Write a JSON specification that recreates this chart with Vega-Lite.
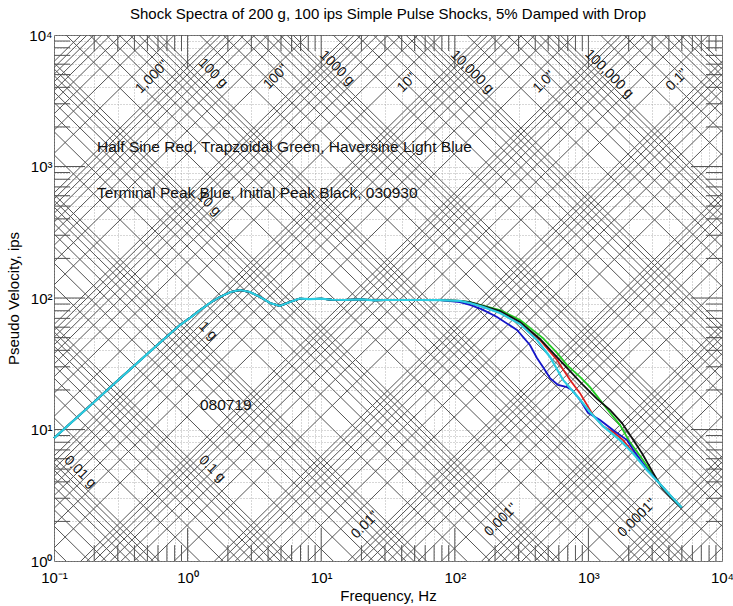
{
  "$schema": "https://vega.github.io/schema/vega-lite/v6.json",
  "width": 668,
  "height": 526,
  "autosize": "none",
  "padding": {"left": 54, "top": 35, "right": 11, "bottom": 45},
  "background": "white",
  "config": {
    "font": "Liberation Sans",
    "view": {"stroke": "#666", "strokeWidth": 1},
    "axis": {"domain": false}
  },
  "title": {
    "text": "Shock Spectra of 200 g, 100 ips Simple Pulse Shocks, 5% Damped with Drop",
    "fontSize": 15,
    "fontWeight": "normal",
    "color": "#000",
    "offset": 6
  },
  "resolve": {"axis": {"x": "independent", "y": "independent"}},
  "datasets": {
    "diag": [
      {"lo":1.2566e-5,"hi":1.2566e0},{"lo":1.885e-5,"hi":1.885e0},{"lo":2.5133e-5,"hi":2.5133e0},{"lo":3.1416e-5,"hi":3.1416e0},{"lo":3.7699e-5,"hi":3.7699e0},{"lo":4.3982e-5,"hi":4.3982e0},{"lo":5.0265e-5,"hi":5.0265e0},{"lo":5.6549e-5,"hi":5.6549e0},
      {"lo":6.2832e-5,"hi":6.2832e0},{"lo":1.2566e-4,"hi":1.2566e1},{"lo":1.885e-4,"hi":1.885e1},{"lo":2.5133e-4,"hi":2.5133e1},{"lo":3.1416e-4,"hi":3.1416e1},{"lo":3.7699e-4,"hi":3.7699e1},{"lo":4.3982e-4,"hi":4.3982e1},{"lo":5.0265e-4,"hi":5.0265e1},{"lo":5.6549e-4,"hi":5.6549e1},
      {"lo":6.2832e-4,"hi":6.2832e1},{"lo":1.2566e-3,"hi":1.2566e2},{"lo":1.885e-3,"hi":1.885e2},{"lo":2.5133e-3,"hi":2.5133e2},{"lo":3.1416e-3,"hi":3.1416e2},{"lo":3.7699e-3,"hi":3.7699e2},{"lo":4.3982e-3,"hi":4.3982e2},{"lo":5.0265e-3,"hi":5.0265e2},{"lo":5.6549e-3,"hi":5.6549e2},
      {"lo":6.2832e-3,"hi":6.2832e2},{"lo":1.2566e-2,"hi":1.2566e3},{"lo":1.885e-2,"hi":1.885e3},{"lo":2.5133e-2,"hi":2.5133e3},{"lo":3.1416e-2,"hi":3.1416e3},{"lo":3.7699e-2,"hi":3.7699e3},{"lo":4.3982e-2,"hi":4.3982e3},{"lo":5.0265e-2,"hi":5.0265e3},{"lo":5.6549e-2,"hi":5.6549e3},
      {"lo":6.2832e-2,"hi":6.2832e3},{"lo":1.2566e-1,"hi":1.2566e4},{"lo":1.885e-1,"hi":1.885e4},{"lo":2.5133e-1,"hi":2.5133e4},{"lo":3.1416e-1,"hi":3.1416e4},{"lo":3.7699e-1,"hi":3.7699e4},{"lo":4.3982e-1,"hi":4.3982e4},{"lo":5.0265e-1,"hi":5.0265e4},{"lo":5.6549e-1,"hi":5.6549e4},
      {"lo":6.2832e-1,"hi":6.2832e4},{"lo":1.2566e0,"hi":1.2566e5},{"lo":1.885e0,"hi":1.885e5},{"lo":2.5133e0,"hi":2.5133e5},{"lo":3.1416e0,"hi":3.1416e5},{"lo":3.7699e0,"hi":3.7699e5},{"lo":4.3982e0,"hi":4.3982e5},{"lo":5.0265e0,"hi":5.0265e5},{"lo":5.6549e0,"hi":5.6549e5},
      {"lo":6.2832e0,"hi":6.2832e5},{"lo":1.2566e1,"hi":1.2566e6},{"lo":1.885e1,"hi":1.885e6},{"lo":2.5133e1,"hi":2.5133e6},{"lo":3.1416e1,"hi":3.1416e6},{"lo":3.7699e1,"hi":3.7699e6},{"lo":4.3982e1,"hi":4.3982e6},{"lo":5.0265e1,"hi":5.0265e6},{"lo":5.6549e1,"hi":5.6549e6},
      {"lo":6.2832e1,"hi":6.2832e6},{"lo":1.2566e2,"hi":1.2566e7},{"lo":1.885e2,"hi":1.885e7},{"lo":2.5133e2,"hi":2.5133e7},{"lo":3.1416e2,"hi":3.1416e7},{"lo":3.7699e2,"hi":3.7699e7},{"lo":4.3982e2,"hi":4.3982e7},{"lo":5.0265e2,"hi":5.0265e7},{"lo":5.6549e2,"hi":5.6549e7},
      {"lo":6.2832e2,"hi":6.2832e7},{"lo":1.2566e3,"hi":1.2566e8},{"lo":1.885e3,"hi":1.885e8},{"lo":2.5133e3,"hi":2.5133e8},{"lo":3.1416e3,"hi":3.1416e8},{"lo":3.7699e3,"hi":3.7699e8},{"lo":4.3982e3,"hi":4.3982e8},{"lo":5.0265e3,"hi":5.0265e8},{"lo":5.6549e3,"hi":5.6549e8},
      {"lo":6.2832e3,"hi":6.2832e8},
      {"lo":1.229e0,"hi":1.229e-5},{"lo":1.8435e0,"hi":1.8435e-5},{"lo":2.458e0,"hi":2.458e-5},{"lo":3.0725e0,"hi":3.0725e-5},{"lo":3.6869e0,"hi":3.6869e-5},{"lo":4.3014e0,"hi":4.3014e-5},{"lo":4.9159e0,"hi":4.9159e-5},{"lo":5.5304e0,"hi":5.5304e-5},
      {"lo":6.1449e0,"hi":6.1449e-5},{"lo":1.229e1,"hi":1.229e-4},{"lo":1.8435e1,"hi":1.8435e-4},{"lo":2.458e1,"hi":2.458e-4},{"lo":3.0725e1,"hi":3.0725e-4},{"lo":3.6869e1,"hi":3.6869e-4},{"lo":4.3014e1,"hi":4.3014e-4},{"lo":4.9159e1,"hi":4.9159e-4},{"lo":5.5304e1,"hi":5.5304e-4},
      {"lo":6.1449e1,"hi":6.1449e-4},{"lo":1.229e2,"hi":1.229e-3},{"lo":1.8435e2,"hi":1.8435e-3},{"lo":2.458e2,"hi":2.458e-3},{"lo":3.0725e2,"hi":3.0725e-3},{"lo":3.6869e2,"hi":3.6869e-3},{"lo":4.3014e2,"hi":4.3014e-3},{"lo":4.9159e2,"hi":4.9159e-3},{"lo":5.5304e2,"hi":5.5304e-3},
      {"lo":6.1449e2,"hi":6.1449e-3},{"lo":1.229e3,"hi":1.229e-2},{"lo":1.8435e3,"hi":1.8435e-2},{"lo":2.458e3,"hi":2.458e-2},{"lo":3.0725e3,"hi":3.0725e-2},{"lo":3.6869e3,"hi":3.6869e-2},{"lo":4.3014e3,"hi":4.3014e-2},{"lo":4.9159e3,"hi":4.9159e-2},{"lo":5.5304e3,"hi":5.5304e-2},
      {"lo":6.1449e3,"hi":6.1449e-2},{"lo":1.229e4,"hi":1.229e-1},{"lo":1.8435e4,"hi":1.8435e-1},{"lo":2.458e4,"hi":2.458e-1},{"lo":3.0725e4,"hi":3.0725e-1},{"lo":3.6869e4,"hi":3.6869e-1},{"lo":4.3014e4,"hi":4.3014e-1},{"lo":4.9159e4,"hi":4.9159e-1},{"lo":5.5304e4,"hi":5.5304e-1},
      {"lo":6.1449e4,"hi":6.1449e-1},{"lo":1.229e5,"hi":1.229e0},{"lo":1.8435e5,"hi":1.8435e0},{"lo":2.458e5,"hi":2.458e0},{"lo":3.0725e5,"hi":3.0725e0},{"lo":3.6869e5,"hi":3.6869e0},{"lo":4.3014e5,"hi":4.3014e0},{"lo":4.9159e5,"hi":4.9159e0},{"lo":5.5304e5,"hi":5.5304e0},
      {"lo":6.1449e5,"hi":6.1449e0},{"lo":1.229e6,"hi":1.229e1},{"lo":1.8435e6,"hi":1.8435e1},{"lo":2.458e6,"hi":2.458e1},{"lo":3.0725e6,"hi":3.0725e1},{"lo":3.6869e6,"hi":3.6869e1},{"lo":4.3014e6,"hi":4.3014e1},{"lo":4.9159e6,"hi":4.9159e1},{"lo":5.5304e6,"hi":5.5304e1},
      {"lo":6.1449e6,"hi":6.1449e1},{"lo":1.229e7,"hi":1.229e2},{"lo":1.8435e7,"hi":1.8435e2},{"lo":2.458e7,"hi":2.458e2},{"lo":3.0725e7,"hi":3.0725e2},{"lo":3.6869e7,"hi":3.6869e2},{"lo":4.3014e7,"hi":4.3014e2},{"lo":4.9159e7,"hi":4.9159e2},{"lo":5.5304e7,"hi":5.5304e2},
      {"lo":6.1449e7,"hi":6.1449e2},{"lo":1.229e8,"hi":1.229e3},{"lo":1.8435e8,"hi":1.8435e3},{"lo":2.458e8,"hi":2.458e3},{"lo":3.0725e8,"hi":3.0725e3},{"lo":3.6869e8,"hi":3.6869e3},{"lo":4.3014e8,"hi":4.3014e3},{"lo":4.9159e8,"hi":4.9159e3},{"lo":5.5304e8,"hi":5.5304e3},
      {"lo":6.1449e8,"hi":6.1449e3}
    ],
    "xmajor": [{"t":1},{"t":10},{"t":100},{"t":1000}],
    "xminor": [{"t":0.2},{"t":0.3},{"t":0.4},{"t":0.5},{"t":0.6},{"t":0.7},{"t":0.8},{"t":0.9},{"t":2},{"t":3},{"t":4},{"t":5},{"t":6},{"t":7},{"t":8},{"t":9},{"t":20},{"t":30},{"t":40},{"t":50},{"t":60},{"t":70},{"t":80},{"t":90},{"t":200},{"t":300},{"t":400},{"t":500},{"t":600},{"t":700},{"t":800},{"t":900},{"t":2000},{"t":3000},{"t":4000},{"t":5000},{"t":6000},{"t":7000},{"t":8000},{"t":9000}],
    "ymajor": [{"t":10},{"t":100},{"t":1000}],
    "yminor": [{"t":2},{"t":3},{"t":4},{"t":5},{"t":6},{"t":7},{"t":8},{"t":9},{"t":20},{"t":30},{"t":40},{"t":50},{"t":60},{"t":70},{"t":80},{"t":90},{"t":200},{"t":300},{"t":400},{"t":500},{"t":600},{"t":700},{"t":800},{"t":900},{"t":2000},{"t":3000},{"t":4000},{"t":5000},{"t":6000},{"t":7000},{"t":8000},{"t":9000}],
    "spectra": [
      {"s":"Half Sine","f":0.1,"v":8.6},{"s":"Half Sine","f":0.2,"v":16.2},{"s":"Half Sine","f":0.3,"v":23.6},{"s":"Half Sine","f":0.5,"v":37.6},{"s":"Half Sine","f":0.7,"v":51},{"s":"Half Sine","f":0.877,"v":62.3},{"s":"Half Sine","f":1.05,"v":71},{"s":"Half Sine","f":1.24,"v":81},{"s":"Half Sine","f":1.5,"v":93},{"s":"Half Sine","f":1.75,"v":102},{"s":"Half Sine","f":2.1,"v":111},{"s":"Half Sine","f":2.47,"v":115},{"s":"Half Sine","f":2.93,"v":111},{"s":"Half Sine","f":3.48,"v":102},{"s":"Half Sine","f":4.14,"v":91.6},{"s":"Half Sine","f":4.9,"v":87},{"s":"Half Sine","f":5.84,"v":93.3},{"s":"Half Sine","f":6.9,"v":99},{"s":"Half Sine","f":8.24,"v":98},{"s":"Half Sine","f":10,"v":99},{"s":"Half Sine","f":12,"v":97},{"s":"Half Sine","f":15,"v":96.6},{"s":"Half Sine","f":20,"v":97.5},{"s":"Half Sine","f":25,"v":96},{"s":"Half Sine","f":30,"v":96.6},{"s":"Half Sine","f":40,"v":96.6},{"s":"Half Sine","f":55,"v":96.6},{"s":"Half Sine","f":77.5,"v":96.2},
      {"s":"Half Sine","f":109,"v":95},{"s":"Half Sine","f":130,"v":91.6},{"s":"Half Sine","f":160,"v":86},{"s":"Half Sine","f":218,"v":78.3},{"s":"Half Sine","f":308,"v":64.5},{"s":"Half Sine","f":434,"v":47.9},{"s":"Half Sine","f":582,"v":33.8},{"s":"Half Sine","f":729,"v":23.8},{"s":"Half Sine","f":865,"v":18.9},{"s":"Half Sine","f":976,"v":15.4},{"s":"Half Sine","f":1082,"v":12.9},{"s":"Half Sine","f":1286,"v":10.6},{"s":"Half Sine","f":1528,"v":9.6},{"s":"Half Sine","f":1816,"v":8.3},{"s":"Half Sine","f":2157,"v":6.7},{"s":"Half Sine","f":2746,"v":5.0},{"s":"Half Sine","f":3435,"v":3.85},{"s":"Half Sine","f":4224,"v":3.05},{"s":"Half Sine","f":5000,"v":2.55},

      {"s":"Trapezoidal","f":0.1,"v":8.6},{"s":"Trapezoidal","f":0.2,"v":16.2},{"s":"Trapezoidal","f":0.3,"v":23.6},{"s":"Trapezoidal","f":0.5,"v":37.6},{"s":"Trapezoidal","f":0.7,"v":51},{"s":"Trapezoidal","f":0.877,"v":62.3},{"s":"Trapezoidal","f":1.05,"v":71},{"s":"Trapezoidal","f":1.24,"v":81},{"s":"Trapezoidal","f":1.5,"v":93},{"s":"Trapezoidal","f":1.75,"v":102},{"s":"Trapezoidal","f":2.1,"v":111},{"s":"Trapezoidal","f":2.47,"v":115},{"s":"Trapezoidal","f":2.93,"v":111},{"s":"Trapezoidal","f":3.48,"v":102},{"s":"Trapezoidal","f":4.14,"v":91.6},{"s":"Trapezoidal","f":4.9,"v":87},{"s":"Trapezoidal","f":5.84,"v":93.3},{"s":"Trapezoidal","f":6.9,"v":99},{"s":"Trapezoidal","f":8.24,"v":98},{"s":"Trapezoidal","f":10,"v":99},{"s":"Trapezoidal","f":12,"v":97},{"s":"Trapezoidal","f":15,"v":96.6},{"s":"Trapezoidal","f":20,"v":97.5},{"s":"Trapezoidal","f":25,"v":96},{"s":"Trapezoidal","f":30,"v":96.6},{"s":"Trapezoidal","f":40,"v":96.6},{"s":"Trapezoidal","f":55,"v":96.6},{"s":"Trapezoidal","f":77.5,"v":96.2},
      {"s":"Trapezoidal","f":109,"v":95},{"s":"Trapezoidal","f":130,"v":93.2},{"s":"Trapezoidal","f":160,"v":88},{"s":"Trapezoidal","f":218,"v":81},{"s":"Trapezoidal","f":308,"v":68},{"s":"Trapezoidal","f":457,"v":49.6},{"s":"Trapezoidal","f":582,"v":38.2},{"s":"Trapezoidal","f":692,"v":30.9},{"s":"Trapezoidal","f":865,"v":25.1},{"s":"Trapezoidal","f":1028,"v":21},{"s":"Trapezoidal","f":1221,"v":16.8},{"s":"Trapezoidal","f":1451,"v":13.4},{"s":"Trapezoidal","f":1724,"v":10.8},{"s":"Trapezoidal","f":2048,"v":8.0},{"s":"Trapezoidal","f":2433,"v":6.3},{"s":"Trapezoidal","f":2891,"v":4.9},{"s":"Trapezoidal","f":3435,"v":3.85},{"s":"Trapezoidal","f":4224,"v":3.05},{"s":"Trapezoidal","f":5000,"v":2.55},

      {"s":"Terminal Peak","f":0.1,"v":8.6},{"s":"Terminal Peak","f":0.2,"v":16.2},{"s":"Terminal Peak","f":0.3,"v":23.6},{"s":"Terminal Peak","f":0.5,"v":37.6},{"s":"Terminal Peak","f":0.7,"v":51},{"s":"Terminal Peak","f":0.877,"v":62.3},{"s":"Terminal Peak","f":1.05,"v":71},{"s":"Terminal Peak","f":1.24,"v":81},{"s":"Terminal Peak","f":1.5,"v":93},{"s":"Terminal Peak","f":1.75,"v":102},{"s":"Terminal Peak","f":2.1,"v":111},{"s":"Terminal Peak","f":2.47,"v":115},{"s":"Terminal Peak","f":2.93,"v":111},{"s":"Terminal Peak","f":3.48,"v":102},{"s":"Terminal Peak","f":4.14,"v":91.6},{"s":"Terminal Peak","f":4.9,"v":87},{"s":"Terminal Peak","f":5.84,"v":93.3},{"s":"Terminal Peak","f":6.9,"v":99},{"s":"Terminal Peak","f":8.24,"v":98},{"s":"Terminal Peak","f":10,"v":99},{"s":"Terminal Peak","f":12,"v":97},{"s":"Terminal Peak","f":15,"v":96.6},{"s":"Terminal Peak","f":20,"v":97.5},{"s":"Terminal Peak","f":25,"v":96},{"s":"Terminal Peak","f":30,"v":96.6},{"s":"Terminal Peak","f":40,"v":96.6},{"s":"Terminal Peak","f":55,"v":96.6},{"s":"Terminal Peak","f":77.5,"v":96.2},
      {"s":"Terminal Peak","f":109,"v":93.2},{"s":"Terminal Peak","f":130,"v":88.5},{"s":"Terminal Peak","f":160,"v":82},{"s":"Terminal Peak","f":207,"v":71.7},{"s":"Terminal Peak","f":292,"v":57.1},{"s":"Terminal Peak","f":365,"v":43.9},{"s":"Terminal Peak","f":412,"v":35.0},{"s":"Terminal Peak","f":457,"v":29.9},{"s":"Terminal Peak","f":516,"v":24.6},{"s":"Terminal Peak","f":592,"v":21.8},{"s":"Terminal Peak","f":692,"v":21.0},{"s":"Terminal Peak","f":754,"v":20.0},{"s":"Terminal Peak","f":865,"v":16.8},{"s":"Terminal Peak","f":993,"v":13.4},{"s":"Terminal Peak","f":1221,"v":11.8},{"s":"Terminal Peak","f":1528,"v":9.9},{"s":"Terminal Peak","f":1945,"v":8.3},{"s":"Terminal Peak","f":2232,"v":6.7},{"s":"Terminal Peak","f":2746,"v":5.0},{"s":"Terminal Peak","f":3435,"v":3.85},{"s":"Terminal Peak","f":4224,"v":3.05},{"s":"Terminal Peak","f":5000,"v":2.55},

      {"s":"Initial Peak","f":0.1,"v":8.6},{"s":"Initial Peak","f":0.2,"v":16.2},{"s":"Initial Peak","f":0.3,"v":23.6},{"s":"Initial Peak","f":0.5,"v":37.6},{"s":"Initial Peak","f":0.7,"v":51},{"s":"Initial Peak","f":0.877,"v":62.3},{"s":"Initial Peak","f":1.05,"v":71},{"s":"Initial Peak","f":1.24,"v":81},{"s":"Initial Peak","f":1.5,"v":93},{"s":"Initial Peak","f":1.75,"v":102},{"s":"Initial Peak","f":2.1,"v":111},{"s":"Initial Peak","f":2.47,"v":115},{"s":"Initial Peak","f":2.93,"v":111},{"s":"Initial Peak","f":3.48,"v":102},{"s":"Initial Peak","f":4.14,"v":91.6},{"s":"Initial Peak","f":4.9,"v":87},{"s":"Initial Peak","f":5.84,"v":93.3},{"s":"Initial Peak","f":6.9,"v":99},{"s":"Initial Peak","f":8.24,"v":98},{"s":"Initial Peak","f":10,"v":99},{"s":"Initial Peak","f":12,"v":97},{"s":"Initial Peak","f":15,"v":96.6},{"s":"Initial Peak","f":20,"v":97.5},{"s":"Initial Peak","f":25,"v":96},{"s":"Initial Peak","f":30,"v":96.6},{"s":"Initial Peak","f":40,"v":96.6},{"s":"Initial Peak","f":55,"v":96.6},{"s":"Initial Peak","f":77.5,"v":96.2},
      {"s":"Initial Peak","f":109,"v":95},{"s":"Initial Peak","f":130,"v":93.2},{"s":"Initial Peak","f":160,"v":87.5},{"s":"Initial Peak","f":218,"v":79.6},{"s":"Initial Peak","f":308,"v":65.7},{"s":"Initial Peak","f":434,"v":48.8},{"s":"Initial Peak","f":543,"v":38.2},{"s":"Initial Peak","f":692,"v":29.4},{"s":"Initial Peak","f":911,"v":21.8},{"s":"Initial Peak","f":1160,"v":17.1},{"s":"Initial Peak","f":1451,"v":14.1},{"s":"Initial Peak","f":1784,"v":11.2},{"s":"Initial Peak","f":2120,"v":8.6},{"s":"Initial Peak","f":2519,"v":6.6},{"s":"Initial Peak","f":3045,"v":4.7},{"s":"Initial Peak","f":3555,"v":3.6},{"s":"Initial Peak","f":4224,"v":3.0},{"s":"Initial Peak","f":5000,"v":2.55},

      {"s":"Haversine","f":0.1,"v":8.6},{"s":"Haversine","f":0.2,"v":16.2},{"s":"Haversine","f":0.3,"v":23.6},{"s":"Haversine","f":0.5,"v":37.6},{"s":"Haversine","f":0.7,"v":51},{"s":"Haversine","f":0.877,"v":62.3},{"s":"Haversine","f":1.05,"v":71},{"s":"Haversine","f":1.24,"v":81},{"s":"Haversine","f":1.5,"v":93},{"s":"Haversine","f":1.75,"v":102},{"s":"Haversine","f":2.1,"v":111},{"s":"Haversine","f":2.47,"v":115},{"s":"Haversine","f":2.93,"v":111},{"s":"Haversine","f":3.48,"v":102},{"s":"Haversine","f":4.14,"v":91.6},{"s":"Haversine","f":4.9,"v":87},{"s":"Haversine","f":5.84,"v":93.3},{"s":"Haversine","f":6.9,"v":99},{"s":"Haversine","f":8.24,"v":98},{"s":"Haversine","f":10,"v":99},{"s":"Haversine","f":12,"v":97},{"s":"Haversine","f":15,"v":96.6},{"s":"Haversine","f":20,"v":97.5},{"s":"Haversine","f":25,"v":96},{"s":"Haversine","f":30,"v":96.6},{"s":"Haversine","f":40,"v":96.6},{"s":"Haversine","f":55,"v":96.6},{"s":"Haversine","f":77.5,"v":96.2},
      {"s":"Haversine","f":109,"v":95},{"s":"Haversine","f":130,"v":91.6},{"s":"Haversine","f":160,"v":86},{"s":"Haversine","f":218,"v":76.9},{"s":"Haversine","f":308,"v":63.4},{"s":"Haversine","f":412,"v":47.9},{"s":"Haversine","f":516,"v":35.6},{"s":"Haversine","f":646,"v":23.8},{"s":"Haversine","f":822,"v":18.0},{"s":"Haversine","f":1028,"v":13.6},{"s":"Haversine","f":1286,"v":10.6},{"s":"Haversine","f":1724,"v":8.3},{"s":"Haversine","f":2157,"v":6.6},{"s":"Haversine","f":2746,"v":4.9},{"s":"Haversine","f":3435,"v":3.85},{"s":"Haversine","f":4224,"v":3.05},{"s":"Haversine","f":5000,"v":2.55}
    ],
    "displabels": [
      {"f":0.5414,"v":4793,"t":"1,000\""},
      {"f":4.588,"v":4793,"t":"100\""},
      {"f":43.9,"v":4315,"t":"10\""},
      {"f":465,"v":4391,"t":"1.0\""},
      {"f":4606,"v":4548,"t":"0.1\""},
      {"f":21.27,"v":1.878,"t":"0.01\""},
      {"f":221.7,"v":2.05,"t":"0.001\""},
      {"f":2311,"v":2.12,"t":"0.0001\""}
    ],
    "accellabels": [
      {"f":1.549,"v":5140,"t":"100 g"},
      {"f":13.13,"v":5610,"t":"1000 g"},
      {"f":134.5,"v":5231,"t":"10,000 g"},
      {"f":1427,"v":5052,"t":"100,000 g"},
      {"f":1.446,"v":518,"t":"10 g"},
      {"f":1.421,"v":56.1,"t":"1 g"},
      {"f":1.522,"v":5.01,"t":"0.1 g"},
      {"f":0.1565,"v":4.75,"t":"0.01 g"}
    ],
    "notes": [
      {"f":0.21,"v":1407,"t":"Half Sine Red, Trapzoidal Green, Haversine Light Blue"},
      {"f":0.21,"v":629,"t":"Terminal Peak Blue, Initial Peak Black, 030930"},
      {"f":1.238,"v":15.36,"t":"080719"}
    ]
  },
  "layer": [
    {
      "data": {"name": "diag"},
      "mark": {"type": "rule", "clip": true, "stroke": "#555", "strokeWidth": 1},
      "encoding": {
        "x": {
          "datum": 0.1, "type": "quantitative",
          "scale": {"type": "log", "domain": [0.1, 10000]},
          "axis": {
            "orient": "bottom",
            "values": [0.1,0.2,0.3,0.4,0.5,0.6,0.7,0.8,0.9,1,2,3,4,5,6,7,8,9,10,20,30,40,50,60,70,80,90,100,200,300,400,500,600,700,800,900,1000,2000,3000,4000,5000,6000,7000,8000,9000,10000],
            "labelExpr": "datum.value == 0.1 ? '10⁻¹' : datum.value == 1 ? '10⁰' : datum.value == 10 ? '10¹' : datum.value == 100 ? '10²' : datum.value == 1000 ? '10³' : datum.value == 10000 ? '10⁴' : ''",
            "labelOverlap": false, "labelFlush": false,
            "ticks": false, "domain": false,
            "labelPadding": 9, "labelFontSize": 15, "labelColor": "#000",
            "grid": true, "gridColor": "#999", "gridDash": [1, 2], "gridWidth": 0.8,
            "title": "Frequency, Hz", "titleFontSize": 15, "titleFontWeight": "normal", "titleColor": "#000", "titlePadding": 3
          }
        },
        "x2": {"datum": 10000},
        "y": {
          "field": "lo", "type": "quantitative",
          "scale": {"type": "log", "domain": [1, 10000]},
          "axis": {
            "orient": "left",
            "values": [1,2,3,4,5,6,7,8,9,10,20,30,40,50,60,70,80,90,100,200,300,400,500,600,700,800,900,1000,2000,3000,4000,5000,6000,7000,8000,9000,10000],
            "labelExpr": "datum.value == 1 ? '10⁰' : datum.value == 10 ? '10¹' : datum.value == 100 ? '10²' : datum.value == 1000 ? '10³' : datum.value == 10000 ? '10⁴' : ''",
            "labelOverlap": false, "labelFlush": false,
            "ticks": false, "domain": false,
            "labelPadding": 2, "labelFontSize": 15, "labelColor": "#000",
            "grid": true, "gridColor": "#999", "gridDash": [1, 2], "gridWidth": 0.8,
            "title": "Pseudo Velocity, ips", "titleFontSize": 15, "titleFontWeight": "normal", "titleColor": "#000", "titlePadding": 7
          }
        },
        "y2": {"field": "hi"}
      }
    },
    {
      "data": {"name": "xmajor"},
      "mark": {"type": "rule", "stroke": "#555", "strokeWidth": 1},
      "encoding": {
        "x": {"field": "t", "type": "quantitative", "axis": null},
        "y": {"datum": 1, "type": "quantitative", "axis": null},
        "y2": {"datum": 1.78}
      }
    },
    {
      "data": {"name": "xmajor"},
      "mark": {"type": "rule", "stroke": "#555", "strokeWidth": 1},
      "encoding": {
        "x": {"field": "t", "type": "quantitative", "axis": null},
        "y": {"datum": 10000, "type": "quantitative", "axis": null},
        "y2": {"datum": 5612}
      }
    },
    {
      "data": {"name": "xminor"},
      "mark": {"type": "rule", "stroke": "#555", "strokeWidth": 1},
      "encoding": {
        "x": {"field": "t", "type": "quantitative", "axis": null},
        "y": {"datum": 1, "type": "quantitative", "axis": null},
        "y2": {"datum": 1.32}
      }
    },
    {
      "data": {"name": "xminor"},
      "mark": {"type": "rule", "stroke": "#555", "strokeWidth": 1},
      "encoding": {
        "x": {"field": "t", "type": "quantitative", "axis": null},
        "y": {"datum": 10000, "type": "quantitative", "axis": null},
        "y2": {"datum": 7556}
      }
    },
    {
      "data": {"name": "ymajor"},
      "mark": {"type": "rule", "stroke": "#555", "strokeWidth": 1},
      "encoding": {
        "y": {"field": "t", "type": "quantitative", "axis": null},
        "x": {"datum": 0.1, "type": "quantitative", "axis": null},
        "x2": {"datum": 0.1706}
      }
    },
    {
      "data": {"name": "ymajor"},
      "mark": {"type": "rule", "stroke": "#555", "strokeWidth": 1},
      "encoding": {
        "y": {"field": "t", "type": "quantitative", "axis": null},
        "x": {"datum": 10000, "type": "quantitative", "axis": null},
        "x2": {"datum": 5861}
      }
    },
    {
      "data": {"name": "yminor"},
      "mark": {"type": "rule", "stroke": "#555", "strokeWidth": 1},
      "encoding": {
        "y": {"field": "t", "type": "quantitative", "axis": null},
        "x": {"datum": 0.1, "type": "quantitative", "axis": null},
        "x2": {"datum": 0.1318}
      }
    },
    {
      "data": {"name": "yminor"},
      "mark": {"type": "rule", "stroke": "#555", "strokeWidth": 1},
      "encoding": {
        "y": {"field": "t", "type": "quantitative", "axis": null},
        "x": {"datum": 10000, "type": "quantitative", "axis": null},
        "x2": {"datum": 7590}
      }
    },
    {
      "data": {"name": "displabels"},
      "mark": {"type": "text", "angle": 315, "fontSize": 14, "color": "#111", "align": "center", "baseline": "middle"},
      "encoding": {
        "x": {"field": "f", "type": "quantitative", "axis": null},
        "y": {"field": "v", "type": "quantitative", "axis": null},
        "text": {"field": "t"}
      }
    },
    {
      "data": {"name": "accellabels"},
      "mark": {"type": "text", "angle": 45, "fontSize": 14, "color": "#111", "align": "center", "baseline": "middle"},
      "encoding": {
        "x": {"field": "f", "type": "quantitative", "axis": null},
        "y": {"field": "v", "type": "quantitative", "axis": null},
        "text": {"field": "t"}
      }
    },
    {
      "data": {"name": "notes"},
      "mark": {"type": "text", "fontSize": 15.5, "color": "#111", "align": "left", "baseline": "middle"},
      "encoding": {
        "x": {"field": "f", "type": "quantitative", "axis": null},
        "y": {"field": "v", "type": "quantitative", "axis": null},
        "text": {"field": "t"}
      }
    },
    {
      "data": {"name": "spectra"},
      "transform": [{"filter": "datum.s == 'Half Sine'"}],
      "mark": {"type": "line", "color": "#dd1f1f", "strokeWidth": 1.8},
      "encoding": {
        "x": {"field": "f", "type": "quantitative", "axis": null},
        "y": {"field": "v", "type": "quantitative", "axis": null}
      }
    },
    {
      "data": {"name": "spectra"},
      "transform": [{"filter": "datum.s == 'Trapezoidal'"}],
      "mark": {"type": "line", "color": "#22cc22", "strokeWidth": 1.8},
      "encoding": {
        "x": {"field": "f", "type": "quantitative", "axis": null},
        "y": {"field": "v", "type": "quantitative", "axis": null}
      }
    },
    {
      "data": {"name": "spectra"},
      "transform": [{"filter": "datum.s == 'Terminal Peak'"}],
      "mark": {"type": "line", "color": "#1515c8", "strokeWidth": 1.8},
      "encoding": {
        "x": {"field": "f", "type": "quantitative", "axis": null},
        "y": {"field": "v", "type": "quantitative", "axis": null}
      }
    },
    {
      "data": {"name": "spectra"},
      "transform": [{"filter": "datum.s == 'Initial Peak'"}],
      "mark": {"type": "line", "color": "#111111", "strokeWidth": 1.8},
      "encoding": {
        "x": {"field": "f", "type": "quantitative", "axis": null},
        "y": {"field": "v", "type": "quantitative", "axis": null}
      }
    },
    {
      "data": {"name": "spectra"},
      "transform": [{"filter": "datum.s == 'Haversine'"}],
      "mark": {"type": "line", "color": "#2ccde2", "strokeWidth": 2.2},
      "encoding": {
        "x": {"field": "f", "type": "quantitative", "axis": null},
        "y": {"field": "v", "type": "quantitative", "axis": null}
      }
    }
  ]
}
